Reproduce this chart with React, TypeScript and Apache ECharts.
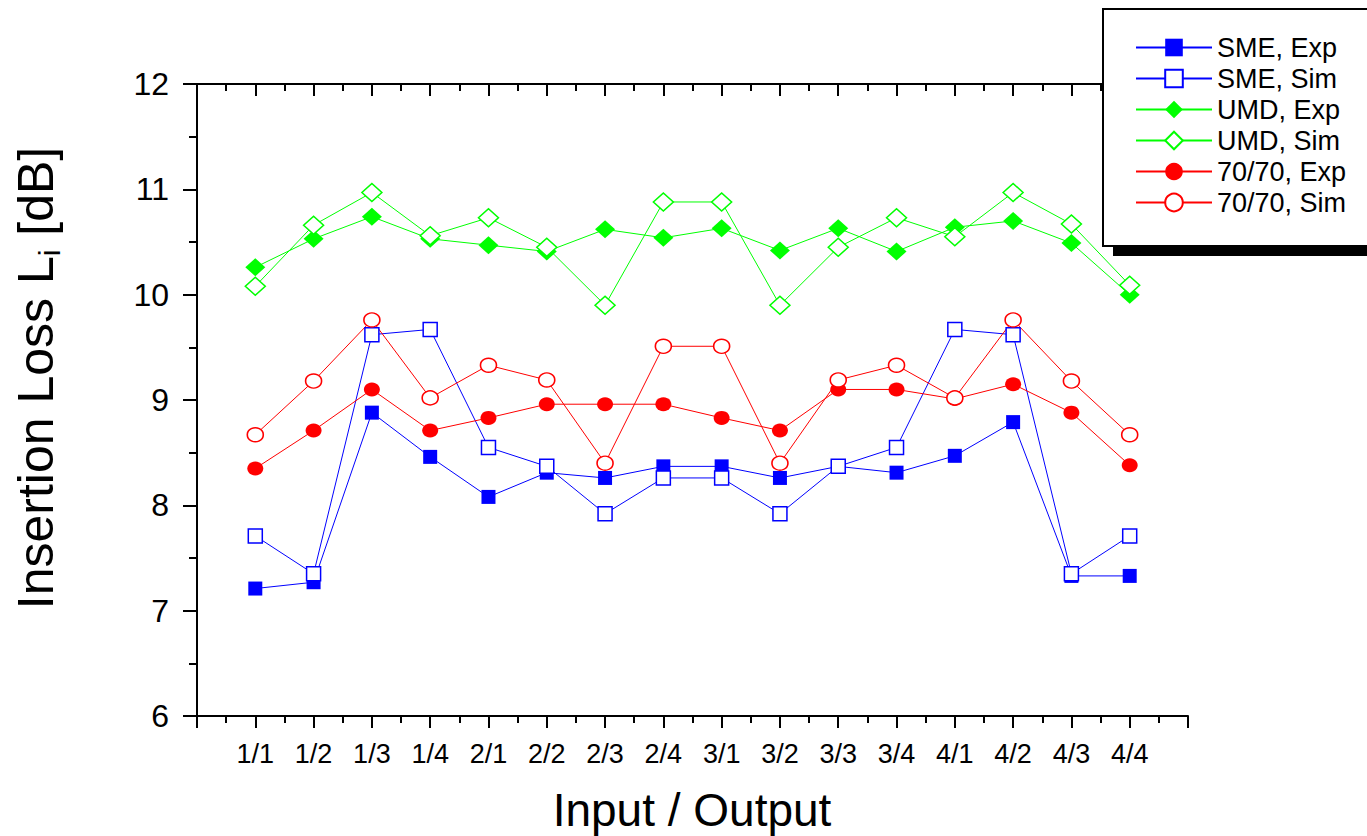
import React, { useEffect, useRef } from "react";
import * as echarts from "echarts";

const categories = ["1/1", "1/2", "1/3", "1/4", "2/1", "2/2", "2/3", "2/4", "3/1", "3/2", "3/3", "3/4", "4/1", "4/2", "4/3", "4/4"];
const smeExp = [7.21, 7.27, 8.88, 8.46, 8.08, 8.31, 8.26, 8.37, 8.37, 8.26, 8.37, 8.31, 8.47, 8.79, 7.33, 7.33];
const smeSim = [7.71, 7.35, 9.62, 9.67, 8.55, 8.37, 7.92, 8.26, 8.26, 7.92, 8.37, 8.55, 9.67, 9.62, 7.35, 7.71];
const umdExp = [10.26, 10.53, 10.74, 10.53, 10.47, 10.41, 10.62, 10.54, 10.63, 10.42, 10.63, 10.41, 10.64, 10.70, 10.49, 10.0];
const umdSim = [10.08, 10.66, 10.97, 10.56, 10.73, 10.45, 9.90, 10.88, 10.88, 9.90, 10.45, 10.73, 10.55, 10.97, 10.67, 10.09];
const e70Exp = [8.35, 8.71, 9.10, 8.71, 8.83, 8.96, 8.96, 8.96, 8.83, 8.71, 9.10, 9.10, 9.01, 9.15, 8.88, 8.38];
const e70Sim = [8.67, 9.18, 9.76, 9.02, 9.33, 9.19, 8.40, 9.51, 9.51, 8.40, 9.19, 9.33, 9.02, 9.76, 9.18, 8.67];

const FONT = "Liberation Sans, Arial, sans-serif";
const BLUE = "#0000ff";
const GREEN = "#00ff00";
const RED = "#ff0000";

const toPoints = (arr: number[]) => arr.map((v, i) => [i + 1, v]);

export default function App() {
  const ref = useRef<HTMLDivElement>(null);
  useEffect(() => {
    if (!ref.current) return;
    const chart = echarts.init(ref.current, undefined, { renderer: "svg" });
    const mk = (name: string, data: number[], color: string, symbol: string, size: number | number[], filled: boolean) => ({
      name,
      type: "line",
      data: toPoints(data),
      symbol,
      symbolSize: size,
      showSymbol: true,
      lineStyle: { color, width: 1 },
      itemStyle: filled
        ? { color, borderColor: color, borderWidth: 0 }
        : { color: "#ffffff", borderColor: color, borderWidth: 1.5 },
      emphasis: { disabled: true },
      z: 2,
    });
    const axisCommonX = {
      type: "value",
      min: 0,
      max: 17,
      interval: 1,
      splitLine: { show: false },
      axisLine: { show: true, lineStyle: { color: "#000", width: 2 } },
    };
    const axisCommonY = {
      type: "value",
      min: 6,
      max: 12,
      interval: 1,
      splitLine: { show: false },
      axisLine: { show: true, lineStyle: { color: "#000", width: 2 } },
    };
    chart.setOption({
      animation: false,
      backgroundColor: "#ffffff",
      grid: { left: 197, right: 179, top: 84, bottom: 120, containLabel: false },
      xAxis: [
        {
          ...axisCommonX,
          position: "bottom",
          axisTick: { show: true, inside: false, length: 12, lineStyle: { color: "#000", width: 2 } },
          minorTick: { show: true, splitNumber: 2, length: 7, lineStyle: { color: "#000", width: 2 } },
          axisLabel: {
            show: true,
            margin: 24,
            fontSize: 27,
            fontFamily: FONT,
            color: "#000",
            formatter: (v: number) => (v >= 1 && v <= categories.length ? categories[v - 1] : ""),
          },
        },
        {
          ...axisCommonX,
          position: "top",
          axisTick: { show: true, inside: true, length: 12, lineStyle: { color: "#000", width: 2 } },
          minorTick: { show: true, splitNumber: 2, length: 7, lineStyle: { color: "#000", width: 2 } },
          axisLabel: { show: false },
        },
      ],
      yAxis: [
        {
          ...axisCommonY,
          position: "left",
          axisTick: { show: true, inside: false, length: 14, lineStyle: { color: "#000", width: 2 } },
          minorTick: { show: true, splitNumber: 2, length: 8, lineStyle: { color: "#000", width: 2 } },
          axisLabel: { show: true, margin: 28, fontSize: 32, fontFamily: FONT, color: "#000" },
        },
        {
          ...axisCommonY,
          position: "right",
          axisTick: { show: true, inside: true, length: 14, lineStyle: { color: "#000", width: 2 } },
          minorTick: { show: true, splitNumber: 2, length: 8, lineStyle: { color: "#000", width: 2 } },
          axisLabel: { show: false },
        },
      ],
      legend: {
        orient: "vertical",
        left: 1130,
        top: 29,
        itemWidth: 76,
        itemHeight: 22,
        itemGap: 4,
        z: 10,
        selectedMode: false,
        textStyle: { fontSize: 27, fontFamily: FONT, color: "#000" },
        data: ["SME, Exp", "SME, Sim", "UMD, Exp", "UMD, Sim", "70/70, Exp", "70/70, Sim"],
      },
      graphic: [
        { type: "rect", z: 1, shape: { x: 1113, y: 19, width: 290, height: 237 }, style: { fill: "#000" } },
        { type: "rect", z: 2, shape: { x: 1103, y: 9, width: 290, height: 237 }, style: { fill: "#fff", stroke: "#000", lineWidth: 2 } },
        {
          type: "text",
          z: 3,
          x: 36,
          y: 378,
          rotation: Math.PI / 2,
          style: {
            text: "Insertion Loss L{sub|i} [dB]",
            font: `50px ${FONT}`,
            fill: "#000",
            align: "center",
            verticalAlign: "middle",
            rich: { sub: { fontSize: 30, fontFamily: FONT, fill: "#000", padding: [26, 0, 0, 0] } },
          },
        },
        {
          type: "text",
          z: 3,
          x: 692,
          y: 810,
          style: { text: "Input / Output", font: `46px ${FONT}`, fill: "#000", align: "center", verticalAlign: "middle" },
        },
      ],
      series: [
        mk("SME, Exp", smeExp, BLUE, "rect", 14, true),
        mk("SME, Sim", smeSim, BLUE, "rect", 14, false),
        mk("UMD, Exp", umdExp, GREEN, "diamond", [20, 18], true),
        mk("UMD, Sim", umdSim, GREEN, "diamond", [20, 18], false),
        mk("70/70, Exp", e70Exp, RED, "circle", [16, 14], true),
        mk("70/70, Sim", e70Sim, RED, "circle", [16, 14], false),
      ],
    });
    return () => chart.dispose();
  }, []);
  return <div ref={ref} style={{ width: 1367, height: 836, position: "absolute", left: 0, top: 0 }} />;
}
